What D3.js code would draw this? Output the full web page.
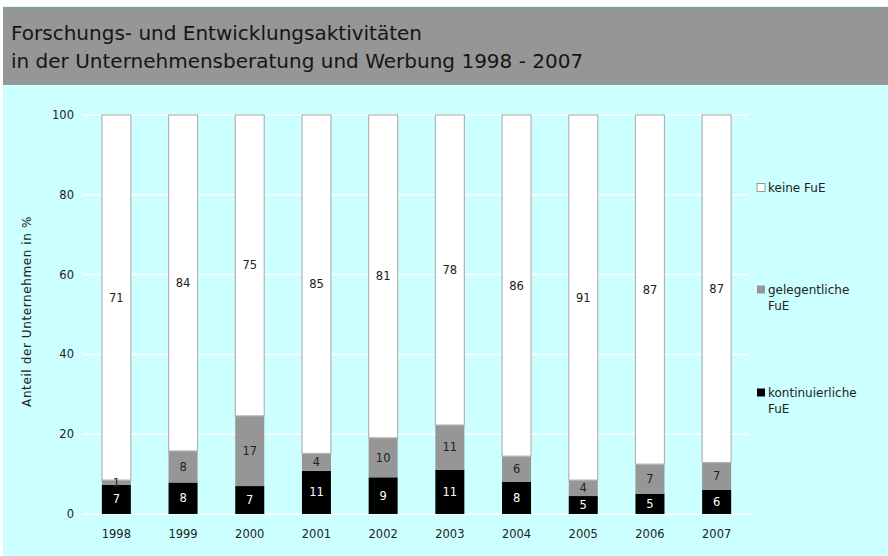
<!DOCTYPE html>
<html>
<head>
<meta charset="utf-8">
<script src="https://cdn.jsdelivr.net/npm/d3@7"></script>
<style>
  body { margin: 0; background: #fff; }
  text { font-family: "DejaVu Sans", Verdana, sans-serif; }
</style>
</head>
<body>
<div id="chart"></div>
<script>
(function() {

const width = 888,
height = 556;

// data
const years = ["1998", "1999", "2000", "2001", "2002", "2003", "2004", "2005", "2006", "2007"];
const kontinuierlich = [7.3, 7.9, 7.0, 10.8, 9.2, 11.1, 8.1, 4.5, 5.1, 6.1];
const gelegentlich = [1.2, 7.9, 17.6, 4.4, 9.9, 11.2, 6.4, 4.0, 7.4, 6.8];
const kontLabels = [7, 8, 7, 11, 9, 11, 8, 5, 5, 6];
const gelLabels = [1, 8, 17, 4, 10, 11, 6, 4, 7, 7];
const keineLabels = [71, 84, 75, 85, 81, 78, 86, 91, 87, 87];
const yTicks = [0, 20, 40, 60, 80, 100];
const legendItems = [
  { key: "keine", lines: ["keine FuE"], color: "#fff" },
  { key: "gel", lines: ["gelegentliche", "FuE"], color: "#969696" },
  { key: "kont", lines: ["kontinuierliche", "FuE"], color: "#000" }
];

const svg = d3.select("#chart")
  .append("svg")
  .attr("width", width)
  .attr("height", height);

// backgrounds
svg.append("rect")
  .attr("x", 3).attr("y", 6)
  .attr("width", width - 3).attr("height", height - 6)
  .attr("fill", "#ccffff");

svg.append("rect")
  .attr("x", 3).attr("y", 7)
  .attr("width", width - 3).attr("height", 78)
  .attr("fill", "#969696");

svg.append("text")
  .attr("x", 11).attr("y", 40)
  .attr("font-size", 20)
  .attr("fill", "#151515")
  .text("Forschungs- und Entwicklungsaktivitäten");

svg.append("text")
  .attr("x", 11).attr("y", 68)
  .attr("font-size", 20)
  .attr("fill", "#151515")
  .text("in der Unternehmensberatung und Werbung 1998 - 2007");

const data = years.map((y, i) => ({
  year: y,
  kont: kontinuierlich[i],
  gel: gelegentlich[i],
  keine: 100 - kontinuierlich[i] - gelegentlich[i],
  labels: { kont: kontLabels[i], gel: gelLabels[i], keine: keineLabels[i] }
}));

const x = d3.scaleBand()
  .domain(years)
  .range([83, 750])
  .paddingInner(0.565)
  .paddingOuter(0.2825);

const y = d3.scaleLinear()
  .domain([0, 100])
  .range([514, 115]);

// grid
svg.append("g")
  .selectAll("line")
  .data(yTicks)
  .join("line")
  .attr("x1", 83)
  .attr("x2", d => d === 0 ? 751 : 747)
  .attr("y1", d => y(d))
  .attr("y2", d => y(d))
  .attr("stroke", "#fff")
  .attr("stroke-width", 1.5);

svg.append("g")
  .selectAll("text")
  .data(yTicks)
  .join("text")
  .attr("x", 74)
  .attr("y", d => y(d))
  .attr("dy", "0.35em")
  .attr("text-anchor", "end")
  .attr("font-size", 11.5)
  .attr("fill", "#222")
  .text(d => d);

svg.append("text")
  .attr("transform", `translate(31,${(y(0) + y(100)) / 2 - 3}) rotate(-90)`)
  .attr("text-anchor", "middle")
  .attr("font-size", 12)
  .attr("letter-spacing", 0.6)
  .attr("fill", "#222")
  .text("Anteil der Unternehmen in %");

const stack = d3.stack().keys(["kont", "gel", "keine"]);
const series = stack(data).map(s => s.map(v => Object.assign(v, { key: s.key })));
const colors = { kont: "#000", gel: "#969696", keine: "#fff" };

svg.append("g")
  .selectAll("g")
  .data(series)
  .join("g")
  .selectAll("rect")
  .data(d => d)
  .join("rect")
  .attr("x", d => x(d.data.year))
  .attr("width", x.bandwidth())
  .attr("y", d => y(d[1]))
  .attr("height", d => y(d[0]) - y(d[1]))
  .attr("fill", d => colors[d.key])
  .attr("stroke", d => d.key === "keine" ? "#b4b4b4" : "none")
  .attr("stroke-width", 1.2);

// segment labels drawn on top of all bars
svg.append("g")
  .selectAll("g")
  .data(series)
  .join("g")
  .selectAll("text")
  .data(d => d)
  .join("text")
  .attr("x", d => x(d.data.year) + x.bandwidth() / 2)
  .attr("y", d => y((d[0] + d[1]) / 2))
  .attr("dy", "0.35em")
  .attr("text-anchor", "middle")
  .attr("font-size", 11.5)
  .attr("fill", d => d.key === "kont" ? "#fff" : "#222")
  .text(d => d.data.labels[d.key]);

// x labels
svg.append("g")
  .selectAll("text")
  .data(years)
  .join("text")
  .attr("x", d => x(d) + x.bandwidth() / 2)
  .attr("y", 534)
  .attr("dy", "0.35em")
  .attr("text-anchor", "middle")
  .attr("font-size", 11.5)
  .attr("fill", "#222")
  .text(d => d);

// legend
const legendY = [188, 290, 393];
const legend = svg.append("g")
  .selectAll("g")
  .data(legendItems)
  .join("g")
  .attr("transform", (d, i) => `translate(757,${legendY[i]})`);

legend.append("rect")
  .attr("x", 0).attr("y", -4.5)
  .attr("width", 8).attr("height", 8)
  .attr("fill", d => d.color)
  .attr("stroke", d => d.key === "keine" ? "#999" : "none");

legend.append("text")
  .attr("font-size", 12)
  .attr("fill", "#222")
  .selectAll("tspan")
  .data(d => d.lines)
  .join("tspan")
  .attr("x", 11)
  .attr("y", (d, i) => i * 16)
  .attr("dy", "0.35em")
  .text(d => d);

})();
</script>
</body>
</html>
